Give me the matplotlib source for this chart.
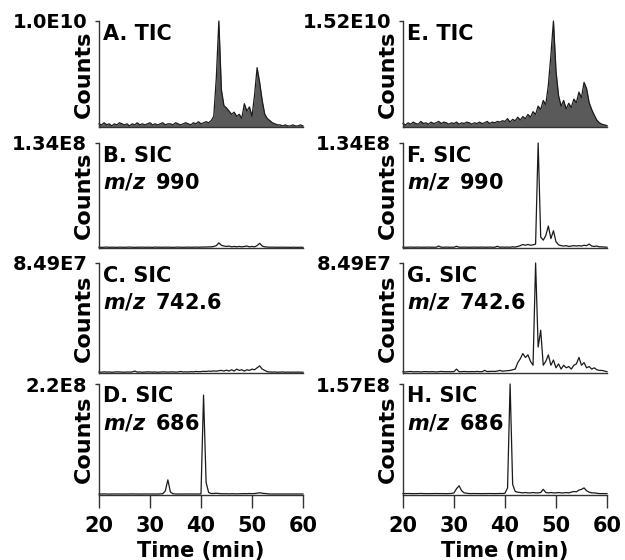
import numpy as np
import matplotlib
matplotlib.use("Agg")
import matplotlib.pyplot as plt

plt.rcParams['font.family'] = ['DejaVu Sans']
plt.rcParams['font.weight'] = 'bold'
plt.rcParams['mathtext.fontset'] = 'custom'
plt.rcParams['mathtext.it'] = 'DejaVu Sans:italic:bold'
plt.rcParams['mathtext.rm'] = 'DejaVu Sans:bold'
plt.rcParams['mathtext.default'] = 'it'

# sampling times (min)
time_min = np.arange(20, 60.25, 0.5)

# ---- left column (A-D) ----
tic_a = np.array([3, 2, 4, 2, 3, 1, 3, 2, 4, 3, 2, 3, 1, 3, 2, 4, 2, 3, 2, 3,
                  4, 2, 3, 2, 3, 4, 2, 3, 3, 2, 4, 3, 2, 3, 4, 3, 2, 4, 3, 5,
                  3, 4, 5, 4,
                  6, 10, 46, 100, 35, 20, 18, 15, 12, 14, 10, 12, 8, 22, 15, 19,
                  10, 30, 56, 42, 25, 12, 8, 6, 4, 3, 2, 2, 1, 2, 1, 1, 2, 1, 1,
                  2, 1]) * 1e8
sic_b = np.array([1, 0.8, 1, 1.2, 0.9, 1, 1, 0.8, 1.1, 1, 0.9, 1, 1.2, 1, 0.8,
                  1, 1, 1.1, 0.9, 1, 1, 0.8, 1.2, 1, 1, 0.9, 1.1, 1, 1, 0.8, 1,
                  1.2, 1, 0.9, 1, 1.1, 1, 1, 1.2, 1, 1.1, 1.3, 1.2, 1.5, 1.4, 2,
                  3, 6.5, 3.5, 2.5, 2, 2.5, 1.5, 2, 1.5, 2, 1.5, 2, 2.5, 1.5, 2,
                  1.5, 3, 6, 2.5, 1.5,
                  1.2, 1, 1.1, 1, 0.9, 1, 1, 0.9, 1, 0.8, 1, 0.9, 0.8, 1, 0.8]) * 1e6
sic_c = np.array([0.8, 0.6, 0.9, 0.7, 0.8, 0.6, 0.7, 0.9, 0.8, 0.7, 0.6, 0.8,
                  0.7, 0.8, 1.5, 0.7, 0.8, 0.6, 0.7, 0.9, 0.8, 0.7, 0.8, 0.6,
                  0.7, 0.9, 0.8, 0.7, 0.8, 0.9, 0.7, 0.8, 1.2, 0.8, 0.9, 0.8,
                  1, 0.9, 1.2, 1, 1.1, 1.3, 1.2, 1.5, 1.3, 1.6, 1.4, 1.8,
                  2, 1.5, 2.2, 1.5, 2.5, 1.5, 3, 2, 2.5, 1.5, 2.5, 2, 3, 2.5, 4,
                  5.5, 3, 2, 1, 0.8, 0.7, 0.8, 0.6, 0.7, 0.8, 0.6, 0.7, 0.6,
                  0.7, 0.6, 0.7, 0.6, 0.6]) * 1e6
sic_d = np.array([2, 2, 2.2, 2, 1.8, 2, 2, 2.1, 2, 2, 1.9, 2, 2, 2.2, 2, 2, 1.9,
                  2, 2.1, 2, 2, 2, 1.9, 2, 2.2, 2.5,
                  8, 30, 6, 2.5, 2, 2, 1.9, 2, 2, 2.1, 2, 2, 2, 2, 2.2,
                  198, 25, 5, 3, 3, 3.5, 3, 2.5, 2.5, 2.5, 2.2, 2.5, 2.5, 2.2,
                  2.5, 2.5, 2.8, 2.5, 3, 2.5, 3, 3.5, 4.5, 3.5, 3, 2.5, 2, 2, 2,
                  2, 2, 2, 2, 2, 2, 2, 2, 2, 2, 2]) * 1e6

# ---- right column (E-H) ----
tic_e = np.array([5, 3, 6, 4, 7, 5, 4, 8, 5, 6, 4, 7, 5, 6, 8, 5, 7, 6, 4, 6,
                  5, 7, 4, 6, 5, 7, 6, 4, 6, 5, 7, 5, 6, 8, 5, 7, 6, 8, 7, 9,
                  8, 12, 7, 11, 9, 14, 10, 15, 12, 18, 14, 22, 18, 30, 25, 38,
                  32, 60, 103, 152, 80, 45, 30, 38, 26, 34, 28, 40, 35, 50, 42,
                  64, 55, 35, 25, 17, 10, 6, 4, 3, 2]) * 1e8
sic_f = np.array([1, 1, 1, 1.2, 1, 1, 1.2, 1, 1, 1, 1.2, 1, 1, 1, 2.5, 1, 1,
                  1.2, 1, 1, 1, 2.2, 1, 1, 1.2, 1, 1, 1, 1.2, 1, 1, 1.2, 1, 1,
                  1.2, 1, 1, 2.2, 1, 1.2, 1, 1.2, 1, 1.5, 1.2,
                  2, 3, 4.5, 3.5, 4.5, 3.5, 4, 5, 134, 14, 10, 16, 28, 12, 22, 8,
                  4, 3, 2.5, 3, 2, 2.5, 3, 2.5, 3, 2.5, 3.5, 3, 5, 2.5, 2, 2.5,
                  1.5, 1.5, 1.2, 1]) * 1e6
sic_g = np.array([1, 0.8, 1, 1.2, 0.9, 1, 1, 0.8, 1, 1.1, 0.9, 1, 1, 0.8, 1,
                  1.2, 1, 1, 1, 1, 1.1, 3, 1, 1, 1.2, 1, 1, 1.1, 1, 1.2, 1, 1,
                  2, 1.1, 1.2, 1.3, 1.2, 1.5, 2, 1.4, 1.6, 1.8,
                  2, 2.5, 3, 8, 11, 15, 12, 14, 9, 6, 84.9, 20, 33, 6, 9, 14, 6,
                  10, 4, 7, 3, 6, 4, 5, 3, 6, 7, 12, 6, 8, 4, 5, 3, 4, 2.5, 2, 2,
                  1.5, 1]) * 1e6
sic_h = np.array([2, 2, 2.1, 2, 1.9, 2, 2, 2.2, 2, 2, 1.9, 2, 2, 2.1, 2, 2, 2,
                  1.9, 2, 2.2,
                  3, 9, 13, 6, 3, 2.5,
                  2, 2, 2.1, 2, 2, 1.9, 2, 2, 2.1, 2, 2, 2, 2.2, 2, 2.5,
                  10, 157, 15, 5, 4, 3.5, 3, 3.5, 3, 3, 3.5, 3, 3, 3.5, 8, 3.5,
                  3, 3.5, 3, 3, 3.5, 3, 3, 3.5, 3, 4, 5, 4.5, 7, 8, 10, 6, 4, 3,
                  3, 2.5, 2, 2, 2, 2]) * 1e6

y_max = [1.0e10, 1.34e8, 8.49e7, 2.2e8, 1.52e10, 1.34e8, 8.49e7, 1.57e8]
y_max_labels = ["1.0E10", "1.34E8", "8.49E7", "2.2E8",
                "1.52E10", "1.34E8", "8.49E7", "1.57E8"]
titles = ["A. TIC", "B. SIC", "C. SIC", "D. SIC",
          "E. TIC", "F. SIC", "G. SIC", "H. SIC"]
mz_labels = [None, "990", "742.6", "686", None, "990", "742.6", "686"]
x_ticks = [20, 30, 40, 50, 60]
series = [tic_a, sic_b, sic_c, sic_d, tic_e, sic_f, sic_g, sic_h]

W, H = 625, 560
fig = plt.figure(figsize=(W / 100, H / 100), dpi=100)

col_left = [99, 403]
col_width = 204
rows = [(21, 127), (143, 248), (263, 373), (384, 495)]

FS = 15
ink = '#1a1a1a'
for i in range(8):
    col, row = divmod(i, 4)
    top, bot = rows[row]
    ax = fig.add_axes([col_left[col] / W, 1 - bot / H,
                       col_width / W, (bot - top) / H])
    y = series[i]
    ax.plot(time_min, y, color=ink, lw=0.9, clip_on=False)
    if titles[i].endswith("TIC"):
        ax.fill_between(time_min, 0, y, color='#5a5a5a', lw=0)
    ax.set_xlim(20, 60)
    ax.set_ylim(0, y_max[i])
    for s in ['top', 'right']:
        ax.spines[s].set_visible(False)
    for s in ['left', 'bottom']:
        ax.spines[s].set_color('#333333')
        ax.spines[s].set_linewidth(1.0)
    ax.set_yticks([y_max[i]])
    ax.set_yticklabels([y_max_labels[i]], fontsize=14, fontweight='bold')
    ax.tick_params(axis='y', length=3, width=1, pad=5.5, color='#333333')
    if row == 3:
        ax.set_xticks(x_ticks)
        ax.set_xticklabels([str(v) for v in x_ticks], fontsize=FS,
                           fontweight='bold')
        ax.tick_params(axis='x', length=9, width=1, pad=6, color='#333333')
        ax.set_xlabel("Time (min)", fontsize=FS, fontweight='bold',
                      labelpad=4)
    else:
        ax.set_xticks([])
    ax.text(-0.075, 0.5, "Counts", rotation=90, ha='center', va='center',
            transform=ax.transAxes, fontsize=16, fontweight='bold')
    ax.annotate(titles[i], xy=(0, 1), xycoords='axes fraction',
                xytext=(4, -2.5), textcoords='offset pixels',
                ha='left', va='top', fontsize=FS, fontweight='bold')
    if mz_labels[i]:
        ax.annotate(r"$m/z\,$ " + mz_labels[i], xy=(0, 1),
                    xycoords='axes fraction', xytext=(4, -28.5),
                    textcoords='offset pixels', ha='left', va='top',
                    fontsize=FS, fontweight='bold')

fig.savefig("out.png", dpi=100)
